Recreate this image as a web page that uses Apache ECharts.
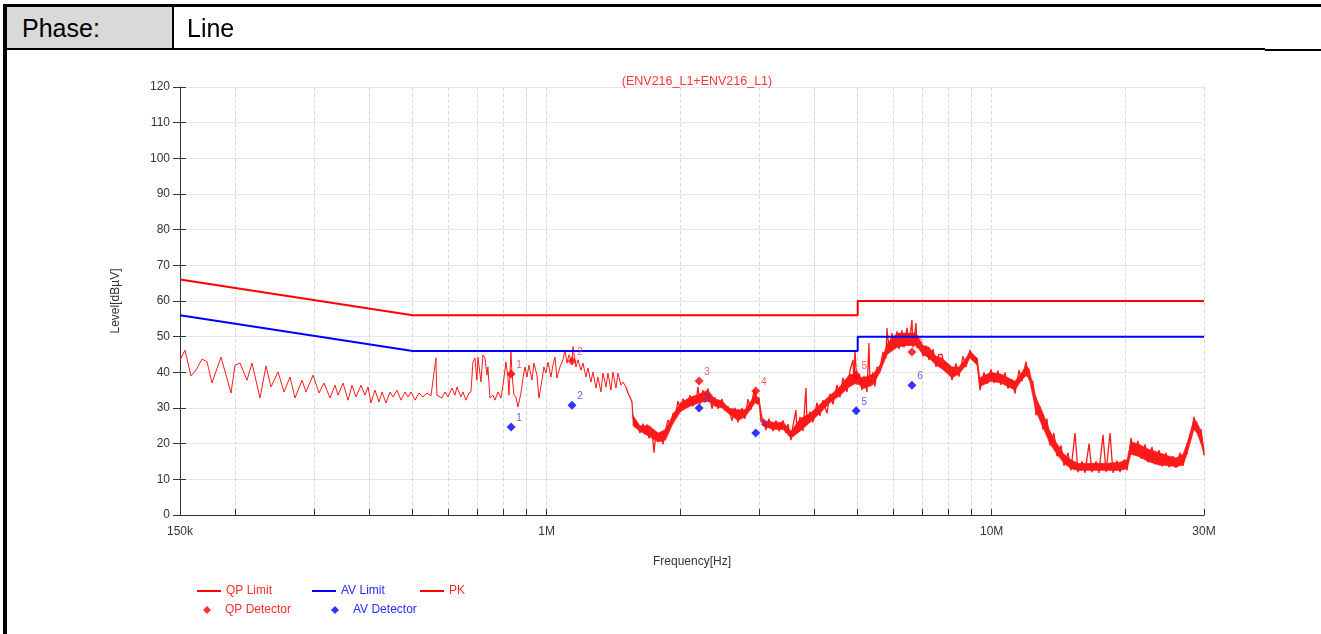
<!DOCTYPE html>
<html>
<head>
<meta charset="utf-8">
<script src="https://cdn.jsdelivr.net/npm/echarts@6/dist/echarts.min.js"></script>
<style>
html,body{margin:0;padding:0;background:#fff;width:1321px;height:634px;overflow:hidden;font-family:"Liberation Sans",Arial,sans-serif;}
#chart{position:absolute;left:0;top:0;width:1321px;height:634px;}
#hdr{position:absolute;left:0;top:0;width:1321px;height:60px;z-index:2;pointer-events:none;}
.b{position:absolute;background:#000;}
.cell{position:absolute;top:8px;height:41px;line-height:41px;font-size:25px;color:#000;}
</style>
</head>
<body>
<div id="chart"></div>
<div id="hdr">
  <div style="position:absolute;left:7px;top:7px;width:165px;height:41px;background:#d9d9d9;"></div>
  <div class="b" style="left:3px;top:4px;width:1318px;height:3px;"></div>
  <div class="b" style="left:3px;top:4px;width:4px;height:630px;"></div>
  <div class="b" style="left:172px;top:7px;width:2px;height:41px;"></div>
  <div class="b" style="left:7px;top:48px;width:1258px;height:1.5px;"></div>
  <div class="b" style="left:1265px;top:48.5px;width:56px;height:2.5px;"></div>
  <div class="cell" style="left:22px;">Phase:</div>
  <div class="cell" style="left:187px;">Line</div>
</div>
<script>
// ---- data ----
const xTickFreqs = [0.15,0.2,0.3,0.4,0.5,0.6,0.7,0.8,0.9,1,2,3,4,5,6,7,8,9,10,20,30]; // MHz
const xLabelFreqs = [0.15,1,10,30];
const xLabelTexts = ['150k','1M','10M','30M'];

const limitFreq = [0.15,0.5,5,5,30];
const qpLimit = [66,56,56,60,60];
const avLimit = [56,46,46,50,50];

const markerIds = ['1','2','3','4','5','6'];
const markerFreq = [0.832,1.14,2.20,2.95,4.96,6.62];
const qpDetector = [39.5,43.2,37.6,34.8,39.3,45.7];
const avDetector = [24.7,30.8,30.0,23.0,29.2,36.4];

// PK trace [MHz, dBuV]
const pkSeg1 = [[0.150,43.4],[0.1539,46.2],[0.1588,39.0],[0.1629,40.6],[0.1681,43.7],[0.1725,43.0],[0.1770,37.0],[0.1854,44.3],[0.1953,34.2],[0.1994,42.0],[0.2046,42.6],[0.2122,37.8],[0.2177,42.6],[0.2269,32.8],[0.2341,41.8],[0.2402,35.9],[0.2491,40.1],[0.2569,34.5],[0.2650,38.7],[0.2720,32.8],[0.2820,37.8],[0.2879,34.5],[0.2985,39.2],[0.3080,34.2],[0.3160,37.0],[0.3260,32.8],[0.3345,36.4],[0.3398,33.6],[0.3487,37.0],[0.3578,32.2],[0.3653,36.4],[0.3729,33.1],[0.3827,36.4],[0.3907,33.6],[0.3968,35.9],[0.4030,31.4],[0.4114,35.0],[0.4200,31.7],[0.4266,34.5],[0.4355,31.4],[0.4446,34.5],[0.4516,33.1],[0.4611,35.0],[0.4707,32.2],[0.4805,34.5],[0.4881,33.1],[0.4957,34.5],[0.5061,32.2],[0.5166,34.2],[0.5274,33.1],[0.5385,34.2],[0.5497,33.4]];
const pkSeg2 = [[0.5552,33.9],[0.5639,44.0],[0.5668,33.6],[0.5817,32.8],[0.5908,34.5],[0.6001,33.1],[0.6126,35.6],[0.6222,33.6],[0.6287,35.9],[0.6418,33.1],[0.6485,34.5],[0.6586,32.2],[0.6689,34.2],[0.6759,34.5],[0.6829,42.9],[0.6900,44.0],[0.6972,37.8],[0.7008,44.3],[0.7118,37.3],[0.7192,44.9],[0.7267,44.0],[0.7342,39.2],[0.7380,41.5],[0.7457,32.8],[0.7574,33.6],[0.7653,32.2],[0.7773,34.5],[0.7894,32.8],[0.7977,36.4],[0.8101,42.9],[0.8185,38.7],[0.8228,33.6],[0.8313,45.7],[0.8357,39.8],[0.8443,33.6],[0.8531,33.1],[0.8620,30.3],[0.8755,34.2],[0.8846,38.4],[0.8938,41.5],[0.9031,38.7],[0.9125,42.0],[0.9268,37.8],[0.9364,42.6],[0.9510,39.2],[0.9609,32.8],[0.9760,37.8],[0.9861,41.5],[0.9964,39.8],[1.0068,42.9],[1.0225,38.7],[1.0331,42.0],[1.0439,44.3],[1.0547,38.4],[1.0712,41.5],[1.0880,43.5],[1.0993,46.3],[1.1108,42.6],[1.1223,44.9],[1.1399,42.9],[1.1458,47.2],[1.1637,41.5],[1.1758,43.5],[1.1942,40.6],[1.2066,42.6],[1.2255,38.7],[1.2383,41.2],[1.2576,37.3],[1.2707,40.1],[1.2906,35.6],[1.3040,38.7],[1.3244,34.5],[1.3382,39.8],[1.3591,35.9],[1.3733,39.8],[1.3947,35.0],[1.4093,40.1],[1.4313,35.6],[1.4462,39.8],[1.4688,36.4],[1.4841,37.3],[1.5074,35.9]];
const pkSeg3 = [[1.5074,35.9],[1.5230,34.2],[1.5389,33.1],[1.5549,31.7],[1.5629,27.2],[1.5792,24.7],[1.5956,26.0],[1.6206,23.0],[1.6459,25.6],[1.6631,22.6],[1.6804,25.4],[1.6979,21.5],[1.7245,24.0],[1.7424,17.5],[1.7605,23.2],[1.7789,20.5],[1.8067,22.6],[1.8255,19.8],[1.8541,24.2],[1.8733,26.6],[1.9026,25.2],[1.9224,28.4],[1.9525,28.8],[1.9728,31.9],[2.0037,29.6],[2.0245,32.6],[2.0669,30.3],[2.0992,33.6],[2.1320,30.5],[2.1766,33.8],[2.1879,35.9],[2.2107,31.0],[2.2453,35.0],[2.2687,31.5],[2.3041,35.5],[2.3523,29.8],[2.3891,33.0],[2.4265,29.8],[2.4772,32.5],[2.5160,29.2],[2.5552,30.5],[2.6087,26.5],[2.6495,30.0],[2.6909,26.0],[2.7471,30.0],[2.7902,27.0],[2.8338,32.5],[2.8782,29.5],[2.9081,33.5],[2.9384,35.0],[2.9689,31.0],[2.9998,33.0],[3.0310,26.0],[3.0625,27.0],[3.1104,23.8],[3.1591,27.0],[3.2251,23.5],[3.2756,26.5],[3.3268,23.5],[3.3964,26.5],[3.4495,23.0],[3.4854,25.5],[3.5400,21.0],[3.5768,25.0],[3.6328,29.4],[3.6516,23.0],[3.7088,27.5],[3.7668,23.5],[3.8257,35.6],[3.8456,25.5],[3.9057,29.0],[3.9668,26.0],[4.0498,31.5],[4.1131,27.8],[4.1775,32.2],[4.2648,28.5],[4.3316,34.0],[4.3993,31.0],[4.4913,36.5],[4.5616,33.0],[4.6330,38.5],[4.7299,34.5],[4.8039,40.5],[4.8791,43.5],[4.9044,37.3],[4.9298,46.3],[4.9811,36.5],[5.0329,39.5],[5.1116,35.0],[5.1648,39.0],[5.2456,34.5],[5.2999,48.2],[5.3275,36.0],[5.4108,40.0],[5.4671,36.0],[5.5240,41.5],[5.6104,41.0],[5.6982,45.7],[5.7873,44.0],[5.8173,52.4],[5.8779,46.5],[5.9699,51.0],[6.0320,46.8],[6.1264,51.5],[6.1901,46.5],[6.2869,51.8],[6.3523,47.0],[6.4517,52.5],[6.5188,47.5],[6.6208,54.7],[6.6552,47.0],[6.7593,53.8],[6.7944,46.8],[6.9007,48.5],[7.0086,44.5],[7.1183,47.5],[7.2296,43.5],[7.3808,46.5],[7.4963,41.5],[7.6136,45.0]];
const pkSeg4 = [[7.732,45.0],[7.853,40.5],[8.018,42.0],[8.143,37.8],[8.313,42.5],[8.443,38.8],[8.620,44.5],[8.755,41.5],[8.938,46.3],[9.078,43.5],[9.268,44.0],[9.413,35.0],[9.609,40.0],[9.760,36.8],[9.964,40.8],[10.12,37.0],[10.33,40.5],[10.49,36.5],[10.71,40.0],[10.88,35.5],[11.11,38.0],[11.28,34.0],[11.52,40.6],[11.70,37.5],[11.94,43.0],[12.13,38.0],[12.38,37.5],[12.58,28.0],[12.84,30.5],[13.04,24.0],[13.31,27.0],[13.52,19.5],[13.80,23.0],[14.02,16.5],[14.31,19.5],[14.54,13.8],[14.84,17.5],[15.07,12.5],[15.39,23.0],[15.63,12.0],[15.96,15.0],[16.21,11.8],[16.55,20.0],[16.80,12.0],[17.16,15.0],[17.42,11.8],[17.79,22.5],[18.07,12.0],[18.45,23.0],[18.73,11.8],[19.13,15.2],[19.42,12.0],[19.83,15.5],[20.14,12.5],[20.56,21.6],[20.88,17.0],[21.32,20.8],[21.65,15.8],[22.11,19.8],[22.45,14.8],[22.92,19.0],[23.28,14.2],[23.77,18.2],[24.14,13.6],[24.64,17.5],[25.03,13.4],[25.55,16.5],[25.95,13.2],[26.50,17.5],[26.91,13.8],[27.47,20.0],[27.90,20.5],[28.49,27.5],[28.93,23.5],[29.54,24.0],[30.0,16.8]];

// dense part of the PK sweep: band of the trace (MHz, lower and upper level in dBuV)
const pkBandFreq = [1.563,1.62,1.70,1.78,1.85,1.92,2.00,2.10,2.21,2.30,2.39,2.48,2.56,2.69,2.79,2.88,2.94,3.00,3.06,3.23,3.40,3.54,3.71,3.91,4.11,4.33,4.56,4.80,4.98,5.16,5.41,5.61,5.82,6.13,6.45,6.76,7.01,7.23,7.50,7.73,8.14,8.44,8.76,8.94,9.27,9.41,9.96,10.49,10.88,11.28,11.70,11.94,12.13,12.58,13.04,13.52,14.02,14.54,15.07,15.63,16.80,18.07,19.42,20.14,20.56,21.32,22.45,23.77,25.03,25.95,26.91,27.47,28.49,28.93,29.54,30.0];
const pkBandLow  = [25,23.5,22,20.5,21,25.5,29,30.5,31.5,32,30.5,30,28.5,26.5,27.5,29.8,31.5,31,25,24,24,21.5,23.5,26,28.5,31.5,33.5,36,37,35.5,36.5,40,45,47,47.5,47.5,45,44,42,41,38.5,39.5,42,44,42,36,37.5,37,36,35,38,39,38.5,29,24.5,20,17,14.5,13,12.5,12.5,12.5,12.5,13,17,16.5,15,14,13.8,13.5,14,17,24,23,20,17];
const pkBandHigh = [28,25,25,23,24,28,31.5,33,34,35,32.5,32,30,29.5,29.5,32,34,32.5,26.5,26,26,23.5,27,28.5,31,33.5,36,39.5,39,38.5,39.5,42,48,51,51,51,47.5,47,44.5,44,41.5,41.5,44,46,44,38.5,40,39.5,38.5,37.5,40,42,41,33,28.5,23.5,20,17,15.5,14.5,14.5,14.5,14.8,15.5,20.5,20,18.5,17.5,16.5,16,17,20,27,26,23.5,18.5];

// ---- build ----
const L = Math.log10;
const toXY = p => [L(p[0]), p[1]];
const pkThin = pkSeg1.concat(pkSeg2).map(toXY);
const pkDense = pkSeg3.concat(pkSeg4).map(toXY);
const bandData = pkBandFreq.map((f, i) => [L(f), pkBandLow[i], pkBandHigh[i]]);
const qpLimitData = limitFreq.map((f, i) => [L(f), qpLimit[i]]);
const avLimitData = limitFreq.map((f, i) => [L(f), avLimit[i]]);
const qpData = markerFreq.map((f, i) => [L(f), qpDetector[i]]);
const avData = markerFreq.map((f, i) => [L(f), avDetector[i]]);

const RED = '#ff0000', BLUE = '#0000ff', PKC = '#ff1a1a';
const RED_T = '#ff2a2a', BLUE_T = '#2a2aff';
const FONT = '"Liberation Sans", Arial, sans-serif';

function lineLegend(name, color, left, top) {
  return {
    data: [{ name: name, icon: 'rect', textStyle: { color: color } }],
    left: left, top: top, itemWidth: 24, itemHeight: 2,
    itemGap: 0, padding: 0, selectedMode: false,
    textStyle: { fontSize: 12, fontFamily: FONT }
  };
}
function markLegend(name, color, left, top) {
  return {
    data: [{ name: name, icon: 'diamond', textStyle: { color: color, padding: [0, 0, 0, 9] } }],
    left: left, top: top, itemWidth: 8, itemHeight: 8,
    itemGap: 0, padding: 0, selectedMode: false,
    textStyle: { fontSize: 12, fontFamily: FONT }
  };
}

function renderBand(params, api) {
  const i = params.dataIndex;
  if (i >= bandData.length - 1) return { type: 'group', children: [] };
  const a = bandData[i], b = bandData[i + 1];
  const pts = [api.coord([a[0], a[1]]), api.coord([b[0], b[1]]), api.coord([b[0], b[2]]), api.coord([a[0], a[2]])];
  return { type: 'polygon', shape: { points: pts }, style: { fill: PKC, stroke: PKC, lineWidth: 0.6 } };
}

const chart = echarts.init(document.getElementById('chart'), null, { renderer: 'canvas' });
chart.setOption({
  animation: false,
  backgroundColor: '#fff',
  title: {
    text: '(ENV216_L1+ENV216_L1)', left: 692, top: 70, textAlign: 'center',
    textStyle: { color: '#ff3535', fontSize: 12.5, fontWeight: 'normal', fontFamily: FONT }
  },
  legend: [
    lineLegend('QP Limit', RED_T, 197, 585),
    lineLegend('AV Limit', BLUE_T, 312, 585),
    lineLegend('PK', RED_T, 420, 585),
    markLegend('QP Detector', RED_T, 203, 604),
    markLegend('AV Detector', BLUE_T, 331, 604)
  ],
  grid: { left: 180, right: 117, top: 87, bottom: 119, containLabel: false },
  xAxis: {
    type: 'value', min: L(0.15), max: L(30),
    name: 'Frequency[Hz]', nameLocation: 'middle', nameGap: 41,
    nameTextStyle: { color: '#333', fontSize: 12, fontFamily: FONT },
    axisLine: { show: true, onZero: false, lineStyle: { color: '#333', width: 1 } },
    axisTick: { show: true, inside: true, length: 6, customValues: xTickFreqs.map(L), lineStyle: { color: '#333' } },
    axisLabel: {
      customValues: xLabelFreqs.map(L), color: '#333', fontSize: 12, fontFamily: FONT, margin: 11,
      formatter: function (v) {
        for (let i = 0; i < xLabelFreqs.length; i++) if (Math.abs(v - L(xLabelFreqs[i])) < 1e-6) return xLabelTexts[i];
        return '';
      }
    },
    splitLine: { show: true, lineStyle: { color: '#dadada', type: 'dashed', width: 1 } }
  },
  yAxis: [{
    type: 'value', min: 0, max: 120, interval: 10,
    name: 'Level[dBµV]', nameLocation: 'middle', nameGap: 58,
    nameTextStyle: { color: '#333', fontSize: 12, fontFamily: FONT },
    axisLine: { show: true, onZero: false, lineStyle: { color: '#333', width: 1 } },
    axisTick: { show: true, inside: false, length: 7, lineStyle: { color: '#333' } },
    axisLabel: { color: '#333', fontSize: 12, fontFamily: FONT, margin: 10 },
    splitLine: { show: true, lineStyle: { color: '#e6e6e6', width: 1 } }
  }, {
    type: 'value', min: 0, max: 120, interval: 10, position: 'left', offset: 0,
    axisLine: { show: false, onZero: false }, axisLabel: { show: false }, splitLine: { show: false },
    axisTick: { show: true, inside: true, length: 6, lineStyle: { color: '#333' } }
  }],
  series: [
    { name: 'QP Limit', type: 'line', data: qpLimitData, symbol: 'none', lineStyle: { color: RED, width: 2 }, itemStyle: { color: RED }, silent: true, z: 3 },
    { name: 'AV Limit', type: 'line', data: avLimitData, symbol: 'none', lineStyle: { color: BLUE, width: 2 }, itemStyle: { color: BLUE }, silent: true, z: 3 },
    { name: 'PK', type: 'line', data: pkThin, symbol: 'none', lineStyle: { color: PKC, width: 1 }, itemStyle: { color: RED }, silent: true, z: 2 },
    { name: 'PK', type: 'custom', data: bandData, renderItem: renderBand, encode: { x: 0, y: [1, 2] }, itemStyle: { color: RED }, silent: true, z: 1 },
    { name: 'PK', type: 'line', data: pkDense, symbol: 'none', lineStyle: { color: PKC, width: 1.3 }, itemStyle: { color: RED }, silent: true, z: 2 },
    { name: 'QP Detector', type: 'scatter', data: qpData, symbol: 'diamond', symbolSize: 9, itemStyle: { color: RED }, z: 5,
      label: { show: true, formatter: p => markerIds[p.dataIndex], position: 'inside', offset: [8, -9], color: '#ff3535', fontSize: 10, fontFamily: FONT } },
    { name: 'AV Detector', type: 'scatter', data: avData, symbol: 'diamond', symbolSize: 9, itemStyle: { color: BLUE }, z: 5,
      label: { show: true, formatter: p => markerIds[p.dataIndex], position: 'inside', offset: [8, -9], color: '#3535ff', fontSize: 10, fontFamily: FONT } }
  ]
});
</script>
</body>
</html>
